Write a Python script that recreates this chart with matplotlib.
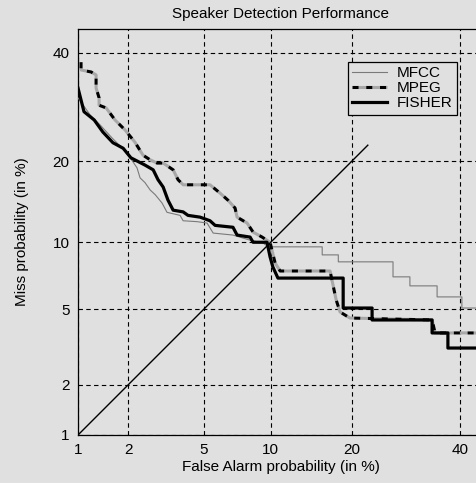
import matplotlib
matplotlib.use('Agg')
import matplotlib.pyplot as plt
import numpy as np
from statistics import NormalDist

plt.rcParams['font.family'] = ['Liberation Sans', 'DejaVu Sans']

# DET curves: false alarm / miss probability, both in %
mfcc_fa = [1.0, 1.19, 1.37, 1.61, 1.84, 2.05, 2.24, 2.33, 2.48, 2.65, 2.82, 3.07, 3.26,
           3.81, 3.95, 4.64, 5.19, 5.55, 6.86, 8.17, 9.29, 9.75, 15.8, 15.8, 18.0, 18.0,
           26.8, 26.8, 29.9, 29.9, 35.2, 35.2, 40.3, 40.3, 45.0]
mfcc_miss = [30.9, 27.7, 25.9, 23.7, 22.05, 20.5, 19.0, 17.55, 16.9, 15.9, 15.3, 14.25, 13.15,
             12.8, 12.2, 12.1, 11.95, 10.9, 10.7, 10.2, 9.93, 9.57, 9.57, 8.85, 8.85, 8.26,
             8.26, 7.09, 7.09, 6.45, 6.45, 5.73, 5.73, 5.07, 5.07]

mpeg_fa = [1.045, 1.045, 1.205, 1.293, 1.293, 1.348, 1.348, 1.485, 1.677, 1.916, 2.18, 2.42,
           2.645, 2.886, 3.11, 3.51, 3.72, 3.95, 5.36, 5.98, 6.51, 7.01, 7.16, 7.93, 8.42,
           9.2, 9.93, 10.42, 10.92, 16.85, 17.7, 18.25, 19.7, 34.2, 34.8, 45.0]
mpeg_miss = [38.0, 36.4, 36.0, 35.4, 32.8, 30.9, 29.5, 29.0, 26.8, 25.05, 23.0, 20.9,
             20.2, 19.7, 19.7, 18.7, 17.3, 16.6, 16.6, 15.5, 14.6, 13.65, 12.6, 11.95, 11.0,
             10.5, 10.0, 8.17, 7.53, 7.53, 5.54, 4.85, 4.53, 4.43, 3.81, 3.81]

fisher_fa = [1.0, 1.09, 1.26, 1.42, 1.63, 1.87, 2.07, 2.48, 2.75, 2.92, 3.11, 3.30, 3.51,
             3.95, 4.18, 4.80, 5.36, 5.67, 6.86, 7.16, 8.17, 8.42, 9.65, 9.93, 10.2, 10.7,
             18.7, 18.7, 23.2, 23.2, 34.2, 34.2, 37.4, 37.4, 45.0]
fisher_miss = [32.8, 28.3, 26.8, 24.7, 22.9, 22.0, 20.5, 19.4, 18.7, 17.3, 16.3, 14.6, 13.4,
               13.2, 12.8, 12.6, 12.2, 11.7, 11.5, 10.7, 10.5, 10.0, 10.0, 8.7, 7.85, 7.0,
               7.0, 5.07, 5.07, 4.43, 4.43, 3.81, 3.81, 3.18, 3.18]

diag = [1.0, 22.5]
ticks = [1, 2, 5, 10, 20, 40]
tick_labels = ['1', '2', '5', '10', '20', '40']

_nd = NormalDist()


def probit(p):
    p = np.clip(np.asarray(p, dtype=float) / 100.0, 1e-9, 1 - 1e-9)
    return np.vectorize(_nd.inv_cdf, otypes=[float])(p)


def inv_probit(z):
    z = np.asarray(z, dtype=float)
    return np.vectorize(_nd.cdf, otypes=[float])(z) * 100.0


bg = '#e0e0e0'
fig = plt.figure(figsize=(4.76, 4.83), dpi=100, facecolor=bg)
ax = fig.add_axes([78 / 476, 48 / 483, 406 / 476, 406 / 483], facecolor=bg)
ax.set_xscale('function', functions=(probit, inv_probit))
ax.set_yscale('function', functions=(probit, inv_probit))

ax.plot(mfcc_fa, mfcc_miss, color='#7a7a7a', lw=0.8, label='MFCC', zorder=3)
ax.plot(mpeg_fa, mpeg_miss, color='black', lw=2.2, linestyle=(0, (2, 2.5)),
        gapcolor='#a8a8a8', label='MPEG', zorder=3)
ax.plot(fisher_fa, fisher_miss, color='black', lw=2.3, label='FISHER', zorder=4)
ax.plot(diag, diag, color='black', lw=1.0, zorder=5)

ax.set_xlim(1, 45)
ax.set_ylim(1, 45)
ax.set_xticks(ticks)
ax.set_xticklabels(tick_labels)
ax.set_yticks(ticks)
ax.set_yticklabels(tick_labels)
ax.tick_params(length=0, labelsize=11, pad=6)
ax.grid(True, color='black', linestyle=(0, (4, 3)), linewidth=0.8)
for s in ax.spines.values():
    s.set_linewidth(0.9)

ax.set_title('Speaker Detection Performance', fontsize=11, pad=8)
ax.set_xlabel('False Alarm probability (in %)', fontsize=11, labelpad=2)
ax.set_ylabel('Miss probability (in %)', fontsize=11, labelpad=17)

leg = ax.legend(loc='upper right', bbox_to_anchor=(0.933, 0.919), fontsize=11,
                fancybox=False, framealpha=1, facecolor=bg, edgecolor='black',
                handlelength=2.3, borderpad=0.3, labelspacing=0.05, borderaxespad=0,
                handletextpad=0.6)
leg.get_frame().set_linewidth(0.9)

fig.savefig('out.png', dpi=100, facecolor=bg)
